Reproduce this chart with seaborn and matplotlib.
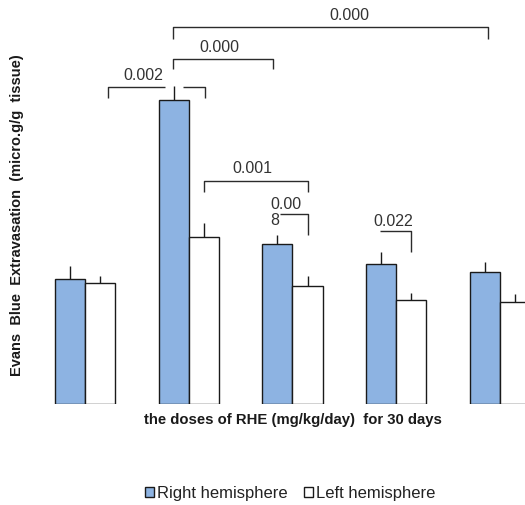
import matplotlib
matplotlib.use("Agg")
import matplotlib.pyplot as plt
import seaborn as sns
import pandas as pd
import numpy as np

# ---- data ----
groups = ["Control", "Dose 1", "Dose 2", "Dose 3", "Dose 4"]
right_hemisphere = [12.5, 30.4, 16.0, 14.0, 13.2]
left_hemisphere = [12.1, 16.7, 11.8, 10.4, 10.2]
right_err = [1.3, 1.4, 0.9, 1.2, 1.0]
left_err = [0.7, 1.4, 1.0, 0.7, 0.8]
series_names = ["Right hemisphere", "Left hemisphere"]
p_labels = ["0.002", "0.000", "0.000", "0.001", "0.00\n8", "0.022"]

df = pd.DataFrame({
    "group": groups * 2,
    "hemisphere": [series_names[0]] * len(groups) + [series_names[1]] * len(groups),
    "value": right_hemisphere + left_hemisphere,
    "err": right_err + left_err,
})

sns.set_theme(style="white")
plt.rcParams["font.family"] = ["Liberation Sans", "DejaVu Sans"]

fig = plt.figure(figsize=(5.25, 5.06), dpi=100)
ax = fig.add_axes([0.0, 101 / 506, 1.0, 405 / 506])

blue = "#8DB3E2"
W = 0.58
sns.barplot(data=df, x="group", y="value", hue="hemisphere",
            palette=[blue, "white"], width=W, errorbar=None, saturation=1,
            edgecolor="#1a1a1a", linewidth=1.0, ax=ax, legend=True)

# upward-only error bars
for patch_container, errs in zip(ax.containers, [right_err, left_err]):
    xs = [p.get_x() + p.get_width() / 2 for p in patch_container]
    ys = [p.get_height() for p in patch_container]
    ax.errorbar(xs, ys, yerr=[np.zeros(len(errs)), errs], fmt="none",
                ecolor="#1a1a1a", elinewidth=1.0, capsize=0, zorder=1)

ax.set_xlim(-85 / 103.75, 440 / 103.75)
ax.set_ylim(0, 40.5)
ax.set_xlabel("")
ax.set_ylabel("")
ax.set_xticks([])
ax.set_yticks([])
for s in ax.spines.values():
    s.set_visible(False)
ax.patch.set_alpha(0)

lc = "#2b2b2b"
tc = "#333333"
lw = 1.0
fs = 11.5

def line(xs, ys):
    ax.plot(xs, ys, color=lc, lw=lw, solid_capstyle="butt", clip_on=False)

# bracket 0.002 (with gap at error bar)
line([0.222, 0.222, 0.771], [30.6, 31.7, 31.7])
line([0.945, 1.157, 1.157], [31.7, 31.7, 30.6])
ax.text(0.559, 32.9, p_labels[0], ha="center", va="center", fontsize=fs, color=tc)
# bracket 0.000 (short)
line([0.849, 0.849, 1.813, 1.813], [33.5, 34.5, 34.5, 33.5])
ax.text(1.292, 35.8, p_labels[1], ha="center", va="center", fontsize=fs, color=tc)
# bracket 0.000 (long)
line([0.849, 0.849, 3.886, 3.886], [36.5, 37.7, 37.7, 36.5])
ax.text(2.546, 39.0, p_labels[2], ha="center", va="center", fontsize=fs, color=tc)
# bracket 0.001
line([1.148, 1.148, 2.150, 2.150], [21.2, 22.3, 22.3, 21.2])
ax.text(1.610, 23.6, p_labels[3], ha="center", va="center", fontsize=fs, color=tc)
# bracket 0.00 / 8
line([1.880, 2.150, 2.150], [19.0, 19.0, 16.9])
ax.text(1.790, 19.25, p_labels[4], ha="left", va="center", fontsize=fs,
        color=tc, linespacing=1.15)
# bracket 0.022
line([2.845, 3.144, 3.144], [17.3, 17.3, 15.2])
ax.text(2.970, 18.4, p_labels[5], ha="center", va="center", fontsize=fs, color=tc)

# axis labels
fig.text(17 / 525, 1 - 215 / 506, "Evans  Blue  Extravasation  (micro.g/g  tissue)",
         rotation=90, ha="center", va="center", fontsize=10.5, fontweight="bold",
         color="#1a1a1a")
fig.text(293 / 525, 1 - 420 / 506, "the doses of RHE (mg/kg/day)  for 30 days",
         ha="center", va="center", fontsize=10.7, fontweight="bold", color="#1a1a1a")

# legend
handles, labels = ax.get_legend_handles_labels()
ax.get_legend().remove()
leg = fig.legend(handles, labels, loc="center", bbox_to_anchor=(290 / 525, 1 - 494 / 506),
                 ncol=2, frameon=False, fontsize=12, handlelength=0.55, handleheight=0.55,
                 handletextpad=0.15, columnspacing=1.0, borderpad=0)
for t in leg.get_texts():
    t.set_color("#222222")

fig.savefig("out.png", dpi=100)
